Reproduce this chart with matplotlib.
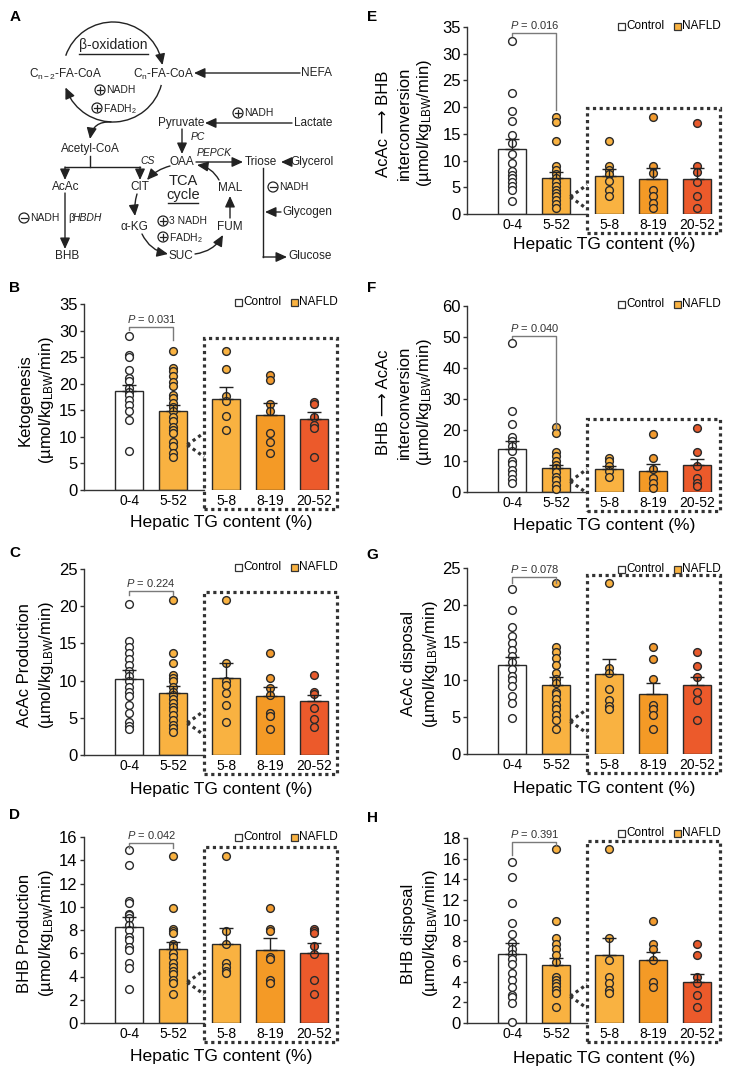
import numpy as np
import matplotlib
matplotlib.use('Agg')
import matplotlib.pyplot as plt
from matplotlib.patches import Rectangle, Arc, Circle

plt.rcParams['font.family'] = ['Liberation Sans', 'DejaVu Sans']
plt.rcParams['mathtext.fontset'] = 'custom'
plt.rcParams['mathtext.rm'] = 'Liberation Sans'
plt.rcParams['mathtext.it'] = 'Liberation Sans:italic'
plt.rcParams['mathtext.bf'] = 'Liberation Sans:bold'

# ---------------- data ----------------
groups = ['0-4', '5-52', '5-8', '8-19', '20-52']
xpos = [0, 1, 2.2, 3.2, 4.2]

keto_means = [18.7, 14.9, 17.2, 14.1, 13.4]
keto_sem = [1.1, 1.1, 2.2, 2.2, 1.2]
keto_pts = [
    [29.0, 25.4, 25.0, 22.6, 21.0, 20.6, 19.2, 18.5, 17.9, 17.0, 16.0, 14.8, 13.2, 7.4],
    [26.2, 22.9, 22.3, 21.5, 20.4, 19.5, 17.9, 17.3, 16.3, 15.7, 14.8, 13.8, 12.9, 11.9, 11.3, 10.7, 9.1, 8.2, 6.9, 6.3],
    [26.2, 22.8, 17.7, 16.8, 14.0, 11.3],
    [21.7, 20.7, 16.2, 14.8, 10.7, 9.1, 6.9],
    [16.5, 16.2, 13.8, 12.3, 11.6, 6.3],
]

acac_prod_means = [10.2, 8.4, 10.3, 7.9, 7.3]
acac_prod_sem = [1.2, 0.9, 2.0, 1.3, 0.8]
acac_prod_pts = [
    [20.3, 15.3, 14.5, 13.7, 12.9, 12.1, 11.3, 10.6, 9.9, 9.2, 8.5, 7.9, 6.7, 5.6, 4.5, 3.9, 3.5],
    [20.9, 13.7, 12.3, 10.8, 10.3, 9.9, 9.2, 8.5, 8.1, 7.5, 7.0, 6.5, 6.0, 5.4, 4.7, 4.0, 3.6, 3.1],
    [20.9, 12.3, 9.9, 9.4, 8.3, 6.7, 4.5],
    [13.7, 10.4, 9.0, 8.1, 5.6, 5.2, 3.5],
    [10.8, 8.5, 8.2, 6.3, 4.9, 3.8],
]

bhb_prod_means = [8.3, 6.4, 6.8, 6.3, 6.0]
bhb_prod_sem = [0.8, 0.6, 1.4, 1.0, 0.9]
bhb_prod_pts = [
    [14.9, 13.6, 10.5, 10.3, 9.4, 9.3, 9.0, 8.4, 8.0, 7.4, 7.1, 6.5, 6.3, 5.2, 4.7, 2.9],
    [14.4, 9.9, 8.1, 7.9, 7.7, 6.8, 6.5, 6.0, 5.7, 5.2, 4.8, 4.5, 4.2, 3.7, 3.4, 2.5],
    [14.4, 7.9, 6.8, 5.2, 4.8, 4.5, 4.3],
    [9.9, 8.1, 7.9, 5.7, 5.5, 3.7, 3.4],
    [8.1, 7.9, 7.7, 6.6, 5.9, 3.7, 2.5],
]

acac2bhb_means = [12.2, 6.7, 7.2, 6.5, 6.6]
acac2bhb_sem = [1.8, 1.1, 1.2, 2.2, 2.1]
acac2bhb_pts = [
    [32.3, 22.7, 19.3, 17.5, 14.8, 13.2, 11.3, 9.5, 8.0, 7.3, 6.7, 5.9, 5.3, 4.4, 2.5],
    [18.2, 17.3, 13.7, 8.9, 8.3, 7.5, 6.7, 5.9, 5.2, 4.5, 3.9, 3.3, 2.7, 1.9, 1.1],
    [13.7, 8.9, 8.3, 7.5, 6.1, 4.4, 3.4],
    [18.1, 8.9, 7.6, 4.4, 3.3, 2.1, 1.1],
    [17.1, 8.9, 7.8, 5.9, 3.3, 1.1],
]

bhb2acac_means = [14.0, 7.6, 7.4, 6.9, 8.6]
bhb2acac_sem = [2.6, 1.1, 1.1, 2.1, 2.2]
bhb2acac_pts = [
    [48.2, 26.2, 22.0, 17.7, 16.6, 14.7, 13.1, 9.9, 9.1, 7.2, 5.9, 4.2, 2.9],
    [21.1, 19.0, 12.8, 11.5, 9.9, 8.8, 7.7, 6.3, 5.0, 3.8, 2.4, 1.0],
    [10.9, 9.9, 8.3, 6.7, 5.0],
    [18.8, 10.9, 7.4, 4.5, 2.9, 1.3],
    [20.6, 12.8, 8.5, 4.5, 2.9, 1.8],
]

acac_disp_means = [12.0, 9.3, 10.7, 8.1, 9.3]
acac_disp_sem = [1.0, 1.0, 2.1, 1.4, 1.1]
acac_disp_pts = [
    [22.2, 19.3, 17.1, 15.8, 14.9, 14.0, 13.2, 12.3, 11.4, 10.5, 10.0, 9.1, 7.8, 6.9, 4.8],
    [23.0, 14.4, 13.7, 12.9, 12.0, 10.9, 10.1, 9.5, 8.4, 8.0, 7.4, 6.6, 6.0, 5.3, 4.6, 3.3],
    [23.0, 11.6, 10.9, 8.7, 7.2, 6.5, 6.0],
    [14.4, 12.8, 10.1, 6.6, 6.0, 5.3, 3.3],
    [13.7, 11.8, 10.4, 8.4, 7.3, 4.6],
]

bhb_disp_means = [6.7, 5.6, 6.6, 6.1, 4.0]
bhb_disp_sem = [1.1, 0.7, 1.7, 0.8, 0.8]
bhb_disp_pts = [
    [15.7, 14.2, 11.7, 9.7, 8.7, 7.8, 7.2, 6.7, 6.2, 5.7, 4.9, 4.2, 3.5, 2.7, 2.5, 1.9, 0.1],
    [16.9, 9.9, 8.3, 7.7, 7.2, 6.6, 5.9, 4.5, 4.2, 3.9, 3.6, 3.2, 2.9, 1.6],
    [16.9, 8.3, 6.1, 4.5, 3.9, 3.2, 2.9],
    [9.9, 7.7, 7.2, 6.1, 4.0, 3.5],
    [7.7, 6.6, 4.5, 3.9, 2.7, 1.6],
]

p_values = ['0.031', '0.224', '0.042', '0.016', '0.040', '0.078', '0.391']

# ---------------- style ----------------
bar_colors = ['white', '#F9B241', '#F9B241', '#F49A26', '#EC5A2B']
pt_colors = ['white', '#F9B241', '#F9B241', '#F29A2E', '#E85A2C']
edge = '#2a2a2a'
UNIT = '(µmol/kg$_{\\mathrm{LBW}}$/min)'

W, H = 736, 1073
fig = plt.figure(figsize=(W / 100, H / 100), dpi=100)

XL = (-1.03, 4.77)
BOXL = 1.70

panels = [
    dict(letter='B', rect=(84, 304, 339, 490), ymax=35, step=5, pts=keto_pts, m=keto_means, s=keto_sem,
         p=p_values[0], br=(30.7, 30.1, 28.2), box=28.6, wedge=8.5, yl=['Ketogenesis', UNIT], xo=37, lo=-2, ly=288),
    dict(letter='C', rect=(84, 569, 339, 755), ymax=25, step=5, pts=acac_prod_pts, m=acac_prod_means, s=acac_prod_sem,
         p=p_values[1], br=(22.0, 21.5, 21.5), box=21.9, wedge=4.3, yl=['AcAc Production', UNIT], xo=39, lo=-2, ly=553),
    dict(letter='D', rect=(84, 837, 339, 1023), ymax=16, step=2, pts=bhb_prod_pts, m=bhb_prod_means, s=bhb_prod_sem,
         p=p_values[2], br=(15.5, 15.05, 15.05), box=15.1, wedge=3.5, yl=['BHB Production', UNIT], xo=38, lo=0, ly=815),
    dict(letter='E', rect=(467, 27, 722, 214), ymax=35, step=5, pts=acac2bhb_pts, m=acac2bhb_means, s=acac2bhb_sem,
         p=p_values[3], br=(33.9, 33.3, 19.5), box=19.8, wedge=3.2, yl=['AcAc ⟶ BHB', 'interconversion', UNIT], xo=35, lo=-1, ly=17),
    dict(letter='F', rect=(467, 306, 722, 492), ymax=60, step=10, pts=bhb2acac_pts, m=bhb2acac_means, s=bhb2acac_sem,
         p=p_values[4], br=(50.3, 49.7, 20.0), box=23.5, wedge=3.5, yl=['BHB ⟶ AcAc', 'interconversion', UNIT], xo=38, lo=-2, ly=288),
    dict(letter='G', rect=(467, 568, 722, 754), ymax=25, step=5, pts=acac_disp_pts, m=acac_disp_means, s=acac_disp_sem,
         p=p_values[5], br=(23.8, 23.0, 23.0), box=24.1, wedge=4.4, yl=['AcAc disposal', UNIT], xo=39, lo=1, ly=555),
    dict(letter='H', rect=(467, 838, 722, 1023), ymax=18, step=2, pts=bhb_disp_pts, m=bhb_disp_means, s=bhb_disp_sem,
         p=p_values[6], br=(17.6, 16.3, 17.3), box=17.7, wedge=2.6, yl=['BHB disposal', UNIT], xo=40, lo=-5, ly=818),
]

# overlay axes in pixel coordinates
ov = fig.add_axes([0, 0, 1, 1], zorder=10)
ov.patch.set_visible(False)
ov.axis('off')

dotted = dict(color='#333333', lw=2.3, linestyle=(0, (1, 1.1)))

for P in panels:
    x0, yt, x1, yb = P['rect']
    ax = fig.add_axes([x0 / W, 1 - yb / H, (x1 - x0) / W, (yb - yt) / H])
    ax.set_xlim(*XL)
    ax.set_ylim(0, P['ymax'])
    ppu = (yb - yt) / P['ymax']
    for sp in ['top', 'right']:
        ax.spines[sp].set_visible(False)
    for sp in ['left', 'bottom']:
        ax.spines[sp].set_linewidth(1.0)
        ax.spines[sp].set_color('#333333')
    ax.spines['bottom'].set_bounds(XL[0], BOXL)
    ax.set_yticks(np.arange(0, P['ymax'] + 0.01, P['step']))
    ax.set_yticklabels([f"{int(v)}" for v in ax.get_yticks()])
    ax.tick_params(axis='y', length=3, width=1, pad=1.5, labelsize=12, color='#333333')
    ax.set_xticks(xpos)
    ax.set_xticklabels(groups)
    ax.tick_params(axis='x', length=0, pad=3, labelsize=10)

    ax.bar(xpos, P['m'], width=0.64, color=bar_colors, edgecolor=edge, linewidth=1.0, zorder=2)
    for i, pts in enumerate(P['pts']):
        ax.plot([xpos[i]] * len(pts), pts, 'o', ms=5.6, mfc=pt_colors[i], mec=edge, mew=1.0,
                zorder=3, clip_on=False, linestyle='none')
    ax.errorbar(xpos, P['m'], yerr=[np.zeros(5), P['s']], fmt='none', ecolor='#222222',
                elinewidth=1.0, capsize=5, capthick=1.0, zorder=4)

    # significance bracket
    by, lend, rend = P['br']
    ax.plot([xpos[0], xpos[0], xpos[1], xpos[1]], [lend, by, by, rend], color='#7a7a7a', lw=1.0,
            clip_on=False, zorder=5)
    ax.annotate('$P$ = ' + P['p'], xy=(0.5, by), xytext=(0, 1.5), textcoords='offset points',
                ha='center', va='bottom', fontsize=8, color='#333333', annotation_clip=False)

    # dotted zoom box
    bot = -19 / ppu
    ax.add_patch(Rectangle((BOXL, bot), XL[1] - 0.04 - BOXL, P['box'] - bot, fill=False, clip_on=False,
                           zorder=6, **dotted))
    d = 12 / ppu
    ax.plot([1.32, BOXL], [P['wedge'], P['wedge'] + d], clip_on=False, zorder=6, **dotted)
    ax.plot([1.32, BOXL], [P['wedge'], P['wedge'] - d], clip_on=False, zorder=6, **dotted)

    # labels via overlay
    pux = (x1 - x0) / (XL[1] - XL[0])
    cx = x0 + (2.1 - XL[0]) * pux
    ov.text(cx, yb + P['xo'], 'Hepatic TG content (%)', ha='center', va='baseline', fontsize=12.6)
    ycen = (yt + yb) / 2 + 3
    n = len(P['yl'])
    offs = [-59, -37] if n == 2 else [-84, -63, -42]
    for s, o in zip(P['yl'], offs):
        ov.text(x0 + o, ycen, s, rotation=90, ha='center', va='center', fontsize=12)
    ov.text(15 if x0 < 300 else 372, P['ly'], P['letter'], fontsize=11, fontweight='bold',
            ha='center', va='center')
    # legend
    yc = yt + P['lo']
    ov.add_patch(Rectangle((x1 - 104, yc - 3.5), 7, 7, fc='white', ec='#333333', lw=0.9))
    ov.text(x1 - 96, yc, 'Control', ha='left', va='center', fontsize=8.5)
    ov.add_patch(Rectangle((x1 - 48, yc - 3.5), 7, 7, fc=bar_colors[1], ec='#333333', lw=0.9))
    ov.text(x1 - 40, yc, 'NAFLD', ha='left', va='center', fontsize=8.5)

# ---------------- panel A diagram ----------------
K = '#222222'


def T(x, y, s, size=8.5, ha='center', **kw):
    ov.text(x, y, s, fontsize=size, ha=ha, va='center', color=K, **kw)


def arrow(xa, ya, xb, yb, rad=0.0):
    ov.annotate('', xy=(xb, yb), xytext=(xa, ya),
                arrowprops=dict(arrowstyle='-|>,head_length=0.55,head_width=0.25', color=K, lw=1.0,
                                shrinkA=0, shrinkB=0, mutation_scale=12,
                                connectionstyle=f'arc3,rad={rad}'))


def line(xs, ys):
    ov.plot(xs, ys, color=K, lw=1.0)


def circ(x, y, plus=True):
    ov.add_patch(Circle((x, y), 5, fill=False, ec=K, lw=0.9))
    ov.plot([x - 3.3, x + 3.3], [y, y], color=K, lw=0.9)
    if plus:
        ov.plot([x, x], [y - 3.3, y + 3.3], color=K, lw=0.9)


ov.text(15, 17, 'A', fontsize=11, fontweight='bold', ha='center', va='center')

# beta-oxidation circle
cxo, cyo, r = 113, 72, 50
ov.add_patch(Arc((cxo, cyo), 2 * r, 2 * r, theta1=199, theta2=346, color=K, lw=1.0))
ov.add_patch(Arc((cxo, cyo), 2 * r, 2 * r, theta1=15, theta2=158, color=K, lw=1.0))


def on_c(th):
    t = np.deg2rad(th)
    return cxo + r * np.cos(t), cyo + r * np.sin(t)


a0 = on_c(343); a1 = on_c(352)
arrow(a0[0], a0[1], a1[0], a1[1])
b0 = on_c(150); b1 = on_c(162)
arrow(b0[0], b0[1], b1[0], b1[1])
T(113, 45, 'β-oxidation', size=10)
line([79, 148], [54, 54])
T(66, 74, 'C$_{\\mathrm{n-2}}$-FA-CoA')
T(164, 74, 'C$_{\\mathrm{n}}$-FA-CoA')
T(317, 73, 'NEFA')
arrow(300, 73, 194, 73)
circ(100, 90); T(106, 90, 'NADH', size=7.5, ha='left')
circ(97, 108); T(103, 109, 'FADH$_2$', size=7.5, ha='left')
arrow(111, 122, 90, 139, rad=0.45)
T(90, 149, 'Acetyl-CoA')
line([90, 90], [156, 167])
line([65, 140], [167, 167])
arrow(65, 167, 65, 180)
arrow(140, 167, 140, 180)
T(66, 187, 'AcAc')
T(140, 187, 'CIT')
T(148, 161, 'CS', style='italic', size=7.5)
T(181, 123, 'Pyruvate')
T(313, 123, 'Lactate')
arrow(292, 123, 205, 123)
circ(238, 113); T(244, 113, 'NADH', size=7.5, ha='left')
arrow(182, 129, 182, 154)
T(191, 137, 'PC', style='italic', size=7.5, ha='left')
T(182, 162, 'OAA')
T(214, 153, 'PEPCK', style='italic', size=7.5)
arrow(196, 162, 243, 162)
T(261, 162, 'Triose')
arrow(291, 162, 281, 162)
T(312, 162, 'Glycerol')
line([263, 263], [168, 257])
arrow(263, 257, 287, 257)
T(310, 256, 'Glucose')
circ(273, 187, plus=False); T(279, 187, 'NADH', size=7.5, ha='left')
arrow(281, 212, 265, 212)
T(307, 212, 'Glycogen')
arrow(170, 166, 147, 180, rad=0.15)
T(183, 181, 'TCA', size=10.5)
T(183, 195, 'cycle', size=10.5)
line([168, 198], [203, 203])
T(230, 188, 'MAL')
T(134, 227, 'α-KG')
T(230, 227, 'FUM')
T(181, 256, 'SUC')
arrow(137, 194, 135, 216, rad=0.1)
arrow(142, 234, 168, 254, rad=0.25)
arrow(195, 254, 223, 235, rad=0.25)
arrow(230, 218, 230, 196)
arrow(219, 180, 197, 165, rad=0.25)
circ(163, 221); T(169, 221, '3 NADH', size=7.5, ha='left')
circ(163, 237); T(169, 238, 'FADH$_2$', size=7.5, ha='left')
arrow(65, 193, 65, 249)
T(67, 256, 'BHB')
circ(24, 218, plus=False); T(30, 218, 'NADH', size=7.5, ha='left')
T(68, 218, 'β', size=7.5, ha='left')
T(73, 218, 'HBDH', size=7.5, ha='left', style='italic')

ov.set_xlim(0, W)
ov.set_ylim(H, 0)

fig.savefig('out.png', dpi=100)
